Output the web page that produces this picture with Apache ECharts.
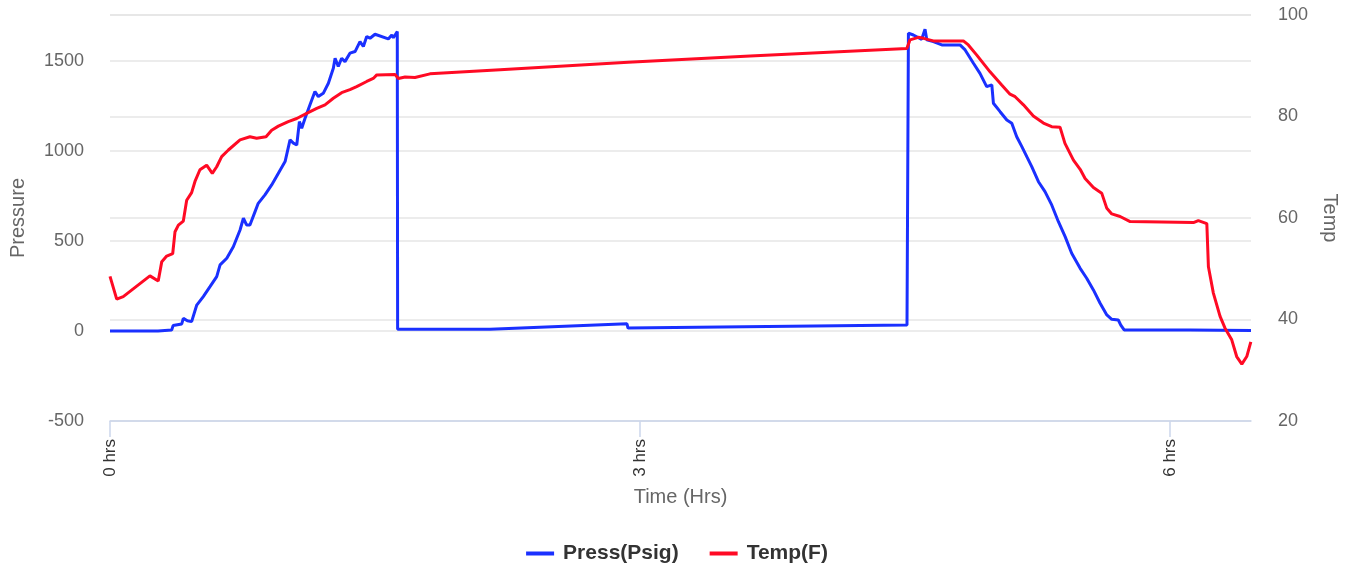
<!DOCTYPE html>
<html>
<head>
<meta charset="utf-8">
<script src="https://cdn.jsdelivr.net/npm/echarts@6/dist/echarts.min.js"></script>
<style>
html,body{margin:0;padding:0;background:#fff;}
#chart{width:1354px;height:569px;}
</style>
</head>
<body>
<div id="chart"></div>
<script>
// Time in hours
var xTickValues = [0, 3, 6];
var leftTicks = [-500, 0, 500, 1000, 1500];
var rightTicks = [20, 40, 60, 80, 100];

// Pressure (Psig): [hours, value]
var pressData = [
  [0,0],[0.272,0],[0.349,5],[0.357,30],[0.406,39],[0.415,70],[0.438,57],[0.462,52],
  [0.491,144],[0.528,191],[0.566,246],[0.604,302],[0.623,367],[0.661,404],[0.698,468],
  [0.736,561],[0.755,626],[0.773,589],[0.792,589],[0.821,663],[0.839,709],[0.877,756],
  [0.915,811],[0.953,876],[0.991,941],[1.019,1061],[1.038,1043],[1.057,1033],[1.072,1163],
  [1.085,1126],[1.104,1181],[1.132,1256],[1.160,1330],[1.179,1302],[1.207,1320],[1.236,1376],
  [1.264,1459],[1.274,1515],[1.292,1469],[1.311,1515],[1.330,1496],[1.358,1543],[1.387,1552],
  [1.415,1607],[1.434,1580],[1.453,1635],[1.472,1626],[1.500,1648],[1.575,1622],[1.595,1644],
  [1.604,1629],[1.626,1663],[1.628,9],[2.151,10],[2.926,40],[2.932,16],
  [4.511,33],[4.519,1654],[4.547,1644],[4.594,1620],[4.613,1676],[4.623,1617],[4.660,1607],
  [4.708,1589],[4.811,1589],[4.840,1561],[4.887,1487],[4.924,1431],[4.962,1357],[4.991,1367],
  [5.000,1265],[5.038,1218],[5.076,1172],[5.104,1154],[5.132,1079],[5.161,1024],[5.189,968],
  [5.217,913],[5.255,829],[5.292,774],[5.330,700],[5.368,607],[5.406,524],[5.443,432],
  [5.491,348],[5.528,293],[5.566,228],[5.604,154],[5.642,89],[5.670,65],[5.707,61],
  [5.721,33],[5.740,6],[6.113,6],[6.458,3]
];

// Temperature (F): [hours, value]
var tempData = [
  [0,48.5],[0.038,44.0],[0.075,44.5],[0.226,48.6],[0.273,47.6],[0.293,51.4],[0.321,52.5],
  [0.355,53.0],[0.368,57.3],[0.387,58.6],[0.415,59.4],[0.434,63.5],[0.462,65.0],[0.481,67.2],
  [0.509,69.5],[0.547,70.4],[0.579,68.8],[0.604,70.1],[0.632,72.1],[0.670,73.4],[0.736,75.4],
  [0.792,76.0],[0.830,75.7],[0.883,76.0],[0.915,77.3],[0.953,78.1],[1.009,79.0],[1.057,79.6],
  [1.113,80.6],[1.170,81.6],[1.217,82.3],[1.264,83.6],[1.311,84.7],[1.358,85.3],[1.396,85.9],
  [1.453,86.9],[1.490,87.5],[1.510,88.2],[1.613,88.3],[1.632,87.5],[1.670,87.8],[1.726,87.7],
  [1.811,88.4],[2.208,89.2],[2.932,90.7],[3.623,91.9],[4.510,93.4],[4.528,95.1],[4.575,95.6],
  [4.604,95.4],[4.660,94.9],[4.830,94.9],[4.858,94.1],[4.906,92.1],[4.981,88.8],[5.047,86.2],
  [5.094,84.4],[5.123,83.9],[5.170,82.3],[5.226,80.1],[5.283,78.7],[5.330,78.0],[5.377,77.9],
  [5.405,74.7],[5.453,71.4],[5.491,69.6],[5.519,67.8],[5.566,66.0],[5.613,64.9],[5.642,61.9],
  [5.670,60.8],[5.717,60.3],[5.774,59.3],[6.132,59.1],[6.160,59.5],[6.208,58.9],[6.217,50.4],
  [6.245,45.2],[6.283,40.6],[6.311,38.3],[6.349,36.0],[6.377,32.7],[6.406,31.2],[6.434,32.7],
  [6.457,35.6]
];

var FONT = "'Liberation Sans', Arial, sans-serif";
var chart = echarts.init(document.getElementById('chart'), null, {renderer: 'canvas'});
chart.setOption({
  animation: false,
  textStyle: {fontFamily: FONT},
  grid: {left: 110, right: 103, top: 15, bottom: 148, containLabel: false, outerBoundsMode: 'none'},
  legend: {
    bottom: 0,
    left: 'center',
    icon: 'rect',
    itemWidth: 28,
    itemHeight: 4,
    itemGap: 31,
    textStyle: {fontSize: 21, fontWeight: 'bold', color: '#333', fontFamily: FONT, padding: [0, 0, 0, 4]},
    data: ['Press(Psig)', 'Temp(F)']
  },
  xAxis: {
    type: 'value',
    min: 0,
    max: 6.458,
    name: 'Time (Hrs)',
    nameLocation: 'middle',
    nameGap: 66,
    nameTextStyle: {fontSize: 20, color: '#666', fontFamily: FONT},
    axisLine: {show: true, onZero: false, lineStyle: {color: '#ccd6eb', width: 1.5}},
    axisTick: {show: true, length: 16, customValues: xTickValues, lineStyle: {color: '#ccd6eb', width: 1.5}},
    axisLabel: {
      customValues: xTickValues,
      rotate: 90,
      margin: 18,
      fontSize: 17,
      color: '#333',
      fontFamily: FONT,
      formatter: function (v) { return v + ' hrs'; }
    },
    splitLine: {show: false}
  },
  yAxis: [
    {
      type: 'value',
      min: -500,
      max: 1755,
      interval: 500,
      name: 'Pressure',
      nameLocation: 'middle',
      nameGap: 82,
      nameTextStyle: {fontSize: 20, color: '#666', fontFamily: FONT},
      axisLine: {show: false},
      axisTick: {show: false},
      axisLabel: {customValues: leftTicks, fontSize: 18, color: '#666', margin: 26, fontFamily: FONT,
        formatter: function (v) { return String(v); }},
      splitLine: {lineStyle: {color: '#e6e6e6', width: 1.5}}
    },
    {
      type: 'value',
      min: 20,
      max: 100,
      interval: 20,
      position: 'right',
      name: 'Temp',
      nameLocation: 'middle',
      nameGap: 69,
      nameRotate: -90,
      nameTextStyle: {fontSize: 20, color: '#666', fontFamily: FONT},
      axisLine: {show: false},
      axisTick: {show: false},
      axisLabel: {customValues: rightTicks, fontSize: 18, color: '#666', margin: 27, fontFamily: FONT,
        formatter: function (v) { return String(v); }},
      splitLine: {lineStyle: {color: '#e6e6e6', width: 1.5}}
    }
  ],
  series: [
    {
      name: 'Press(Psig)',
      type: 'line',
      yAxisIndex: 0,
      data: pressData,
      showSymbol: false,
      symbol: 'none',
      color: '#1a30ff',
      lineStyle: {width: 3, color: '#1a30ff'}
    },
    {
      name: 'Temp(F)',
      type: 'line',
      yAxisIndex: 1,
      data: tempData,
      showSymbol: false,
      symbol: 'none',
      color: '#ff0a24',
      lineStyle: {width: 3, color: '#ff0a24'}
    }
  ]
});
</script>
</body>
</html>
